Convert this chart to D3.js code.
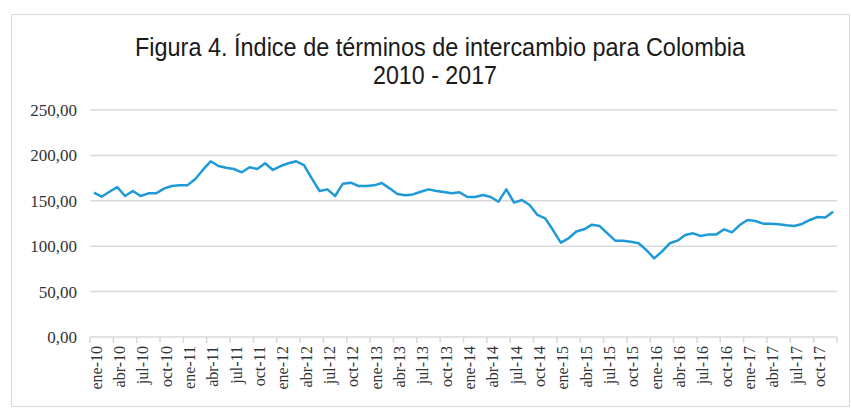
<!DOCTYPE html>
<html>
<head>
<meta charset="utf-8">
<script src="https://cdn.jsdelivr.net/npm/d3@7"></script>
<style>
  body { margin: 0; background: #fff; }
  svg { display: block; }
</style>
</head>
<body>
<div id="graph"></div>
<script>
    var w = 851;
    var h = 409;
    var margin = {left: 90, right: 14, top: 110, bottom: 72};

    // monthly index, ene-10 .. dic-17
    var months = ["ene","feb","mar","abr","may","jun","jul","ago","sep","oct","nov","dic"];
    var years = ["10","11","12","13","14","15","16","17"];
    var values = [
      159, 154.5, 160, 165, 155.3, 160.8, 155.3, 158.2, 158.2, 163.4, 166.3, 167,
      167, 173.7, 184, 193.5, 188.3, 186.5, 185, 181.4, 186.9, 185, 191.3, 184,
      188.3, 191.3, 193.5, 189.4, 174.7, 160.8, 162.6, 155.3, 168.9, 170, 166.3, 166.3,
      167, 169.6, 163.7, 157.5, 156, 157, 160, 162.6, 160.8, 159.7, 158.2, 159.3,
      154.2, 154.2, 156.4, 154.2, 149, 162.6, 148, 150.9, 145.4, 134.4, 130.7, 117.8,
      103.9, 108.7, 116.2, 118.6, 123.7, 122.2, 114.2, 106.1, 106.1, 105, 103.2, 95.8,
      86.6, 94, 103.2, 106.1, 112.3, 114.2, 111.2, 113, 113, 118.6, 115.3, 123.3,
      128.9, 127.8, 124.8, 124.8, 124.1, 123, 122.2, 124.5, 128.9, 132.2, 131.5, 138
    ];
    var yTicks = [0, 50, 100, 150, 200, 250];

    var labels = [];
    years.forEach(function(y){
        months.forEach(function(m){ labels.push(m + "-" + y); });
    });
    var data = labels.map(function(l, i){ return {label: l, value: values[i]}; });

    var svg = d3.select("#graph").append("svg")
        .attr("width", w)
        .attr("height", h);

    // outer frame
    svg.append("rect")
        .attr("x", 11.5).attr("y", 14.5)
        .attr("width", w - 13).attr("height", 392)
        .attr("fill", "none")
        .attr("stroke", "#d9d9d9")
        .attr("stroke-width", 1);

    var x = d3.scaleBand()
        .domain(labels)
        .range([margin.left, w - margin.right])
        .padding(0);

    var y = d3.scaleLinear()
        .domain([0, 250])
        .range([h - margin.bottom, margin.top]);

    // title (a bit condensed, like the original)
    svg.append("text")
        .attr("x", 440).attr("y", 56)
        .attr("text-anchor", "middle")
        .attr("textLength", 610)
        .attr("lengthAdjust", "spacingAndGlyphs")
        .style("font-family", "'Liberation Sans', Arial, sans-serif")
        .style("font-size", "25px")
        .attr("fill", "#1a1a1a")
        .text("Figura 4. Índice de términos de intercambio para Colombia");
    svg.append("text")
        .attr("x", 435).attr("y", 84)
        .attr("text-anchor", "middle")
        .attr("textLength", 124)
        .attr("lengthAdjust", "spacingAndGlyphs")
        .style("font-family", "'Liberation Sans', Arial, sans-serif")
        .style("font-size", "25px")
        .attr("fill", "#1a1a1a")
        .text("2010 - 2017");

    // gridlines
    svg.selectAll(".grid")
        .data(yTicks.filter(function(t){ return t > 0; }))
        .enter()
        .append("line")
        .attr("class", "grid")
        .attr("x1", margin.left)
        .attr("x2", w - margin.right)
        .attr("y1", function(d){ return y(d); })
        .attr("y2", function(d){ return y(d); })
        .attr("stroke", "#d9d9d9")
        .attr("stroke-width", 1.5);

    // y labels
    svg.selectAll(".ylab")
        .data(yTicks)
        .enter()
        .append("text")
        .attr("class", "ylab")
        .attr("x", 77)
        .attr("y", function(d){ return y(d); })
        .attr("dy", "0.35em")
        .attr("text-anchor", "end")
        .style("font-family", "'Liberation Serif', 'Times New Roman', serif")
        .style("font-size", "17px")
        .attr("fill", "#333")
        .text(function(d){ return d3.format(".2f")(d).replace(".", ","); });

    // x axis line + ticks every 3 months
    svg.append("line")
        .attr("x1", margin.left).attr("x2", w - margin.right)
        .attr("y1", y(0)).attr("y2", y(0))
        .attr("stroke", "#d9d9d9")
        .attr("stroke-width", 1.5);

    var tickPos = labels.filter(function(l, i){ return i % 3 == 0; })
        .map(function(l){ return x(l); });
    tickPos.push(w - margin.right);
    svg.selectAll(".xtick")
        .data(tickPos)
        .enter()
        .append("line")
        .attr("class", "xtick")
        .attr("x1", function(d){ return d; })
        .attr("x2", function(d){ return d; })
        .attr("y1", y(0))
        .attr("y2", y(0) + 6)
        .attr("stroke", "#d9d9d9")
        .attr("stroke-width", 1.5);

    // x labels
    svg.selectAll(".xlab")
        .data(data.filter(function(d, i){ return i % 3 == 0; }))
        .enter()
        .append("text")
        .attr("class", "xlab")
        .attr("transform", function(d){
            return "translate(" + (x(d.label) + x.bandwidth() / 2 + 2) + "," + (y(0) + 9) + ") rotate(-90)";
        })
        .attr("dy", "0.35em")
        .attr("text-anchor", "end")
        .style("font-family", "'Liberation Serif', 'Times New Roman', serif")
        .style("font-size", "16px")
        .attr("fill", "#333")
        .text(function(d){ return d.label; });

    // the series
    var line = d3.line()
        .x(function(d){ return x(d.label) + x.bandwidth() / 2; })
        .y(function(d){ return y(d.value); });

    svg.append("path")
        .datum(data)
        .attr("d", line)
        .attr("fill", "none")
        .attr("stroke", "#1f9ad8")
        .attr("stroke-width", 2.5)
        .attr("stroke-linejoin", "round");
</script>
</body>
</html>
